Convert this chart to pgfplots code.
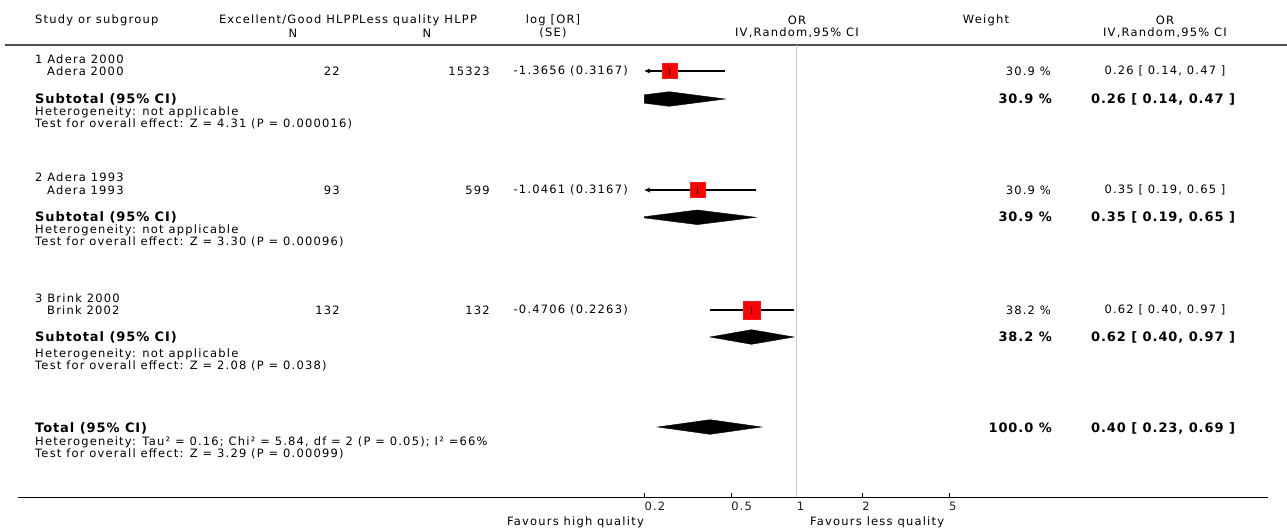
\documentclass[border=0pt]{standalone}
\usepackage{fontspec}
\setmainfont{DejaVu Sans}[LetterSpace=10.5]
\newfontfamily\bfam{DejaVu Sans}[LetterSpace=7]
\usepackage{pgfplots}
\pgfplotsset{compat=1.18}
\usetikzlibrary{arrows.meta}
\newcommand{\nt}{\fontsize{11.5}{13}\selectfont}
\newcommand{\hd}{\fontsize{11.5}{13}\selectfont}
\newcommand{\bt}{\fontsize{13}{15}\selectfont\bfam\bfseries}
\definecolor{rulegray}{HTML}{4D4D4D}
\definecolor{refline}{HTML}{C8C8C8}
\definecolor{txt}{HTML}{1E1E1E}
\begin{document}
\begin{tikzpicture}
% ---------- overlay axis in pixel coordinates for the text columns ----------
\begin{axis}[at={(0pt,0pt)}, anchor=south west, width=1287pt, height=531pt,
  scale only axis, xmin=0, xmax=1287, ymin=0, ymax=531, y dir=reverse,
  hide axis, clip=false, every node/.append style={text=txt}]
  % header
  \node[anchor=west, inner sep=0pt, font=\hd] at (axis cs:35,20) {Study or subgroup};
  \node[anchor=east, inner sep=0pt, font=\hd] at (axis cs:359,20) {Excellent/Good HLPP};
  \node[anchor=west, inner sep=0pt, font=\hd] at (axis cs:359,20) {Less quality HLPP};
  \node[inner sep=0pt, font=\hd] at (axis cs:293,33) {N};
  \node[inner sep=0pt, font=\hd] at (axis cs:427,33) {N};
  \node[inner sep=0pt, font=\hd] at (axis cs:553,20) {log [OR]};
  \node[inner sep=0pt, font=\hd] at (axis cs:553,33) {(SE)};
  \node[inner sep=0pt, font=\hd] at (axis cs:797,20) {OR};
  \node[inner sep=0pt, font=\hd] at (axis cs:797,33) {IV,Random,95\% CI};
  \node[inner sep=0pt, font=\hd] at (axis cs:986,20) {Weight};
  \node[inner sep=0pt, font=\hd] at (axis cs:1165,20) {OR};
  \node[inner sep=0pt, font=\hd] at (axis cs:1165,33) {IV,Random,95\% CI};
  \draw[rulegray, line width=2pt] (axis cs:5,45) -- (axis cs:1287,45);
  % group 1
  \node[anchor=west, inner sep=0pt, font=\nt] at (axis cs:35,59) {1 Adera 2000};
  \node[anchor=west, inner sep=0pt, font=\nt] at (axis cs:47,71) {Adera 2000};
  \node[anchor=east, inner sep=0pt, font=\nt] at (axis cs:340,71) {22};
  \node[anchor=east, inner sep=0pt, font=\nt] at (axis cs:490,71) {15323};
  \node[anchor=east, inner sep=0pt, font=\nt] at (axis cs:628,71) {-1.3656 (0.3167)};
  \node[anchor=east, inner sep=0pt, font=\nt] at (axis cs:1051,71) {30.9 \%};
  \node[inner sep=0pt, font=\nt] at (axis cs:1165,71) {0.26 [ 0.14, 0.47 ]};
  \node[anchor=west, inner sep=0pt, font=\bt] at (axis cs:35,99) {Subtotal (95\% CI)};
  \node[anchor=east, inner sep=0pt, font=\bt] at (axis cs:1052,99) {30.9 \%};
  \node[inner sep=0pt, font=\bt] at (axis cs:1163,99) {0.26 [ 0.14, 0.47 ]};
  \node[anchor=west, inner sep=0pt, font=\nt] at (axis cs:35,112) {Heterogeneity: not applicable};
  \node[anchor=west, inner sep=0pt, font=\nt] at (axis cs:35,124) {Test for overall effect: Z = 4.31 (P = 0.000016)};
  % group 2
  \node[anchor=west, inner sep=0pt, font=\nt] at (axis cs:35,177) {2 Adera 1993};
  \node[anchor=west, inner sep=0pt, font=\nt] at (axis cs:47,190) {Adera 1993};
  \node[anchor=east, inner sep=0pt, font=\nt] at (axis cs:340,190) {93};
  \node[anchor=east, inner sep=0pt, font=\nt] at (axis cs:490,190) {599};
  \node[anchor=east, inner sep=0pt, font=\nt] at (axis cs:628,190) {-1.0461 (0.3167)};
  \node[anchor=east, inner sep=0pt, font=\nt] at (axis cs:1051,190) {30.9 \%};
  \node[inner sep=0pt, font=\nt] at (axis cs:1165,190) {0.35 [ 0.19, 0.65 ]};
  \node[anchor=west, inner sep=0pt, font=\bt] at (axis cs:35,217) {Subtotal (95\% CI)};
  \node[anchor=east, inner sep=0pt, font=\bt] at (axis cs:1052,217) {30.9 \%};
  \node[inner sep=0pt, font=\bt] at (axis cs:1163,217) {0.35 [ 0.19, 0.65 ]};
  \node[anchor=west, inner sep=0pt, font=\nt] at (axis cs:35,230) {Heterogeneity: not applicable};
  \node[anchor=west, inner sep=0pt, font=\nt] at (axis cs:35,242) {Test for overall effect: Z = 3.30 (P = 0.00096)};
  % group 3
  \node[anchor=west, inner sep=0pt, font=\nt] at (axis cs:35,298) {3 Brink 2000};
  \node[anchor=west, inner sep=0pt, font=\nt] at (axis cs:47,310) {Brink 2002};
  \node[anchor=east, inner sep=0pt, font=\nt] at (axis cs:340,310) {132};
  \node[anchor=east, inner sep=0pt, font=\nt] at (axis cs:490,310) {132};
  \node[anchor=east, inner sep=0pt, font=\nt] at (axis cs:628,310) {-0.4706 (0.2263)};
  \node[anchor=east, inner sep=0pt, font=\nt] at (axis cs:1051,310) {38.2 \%};
  \node[inner sep=0pt, font=\nt] at (axis cs:1165,310) {0.62 [ 0.40, 0.97 ]};
  \node[anchor=west, inner sep=0pt, font=\bt] at (axis cs:35,337) {Subtotal (95\% CI)};
  \node[anchor=east, inner sep=0pt, font=\bt] at (axis cs:1052,337) {38.2 \%};
  \node[inner sep=0pt, font=\bt] at (axis cs:1163,337) {0.62 [ 0.40, 0.97 ]};
  \node[anchor=west, inner sep=0pt, font=\nt] at (axis cs:35,354) {Heterogeneity: not applicable};
  \node[anchor=west, inner sep=0pt, font=\nt] at (axis cs:35,366) {Test for overall effect: Z = 2.08 (P = 0.038)};
  % total
  \node[anchor=west, inner sep=0pt, font=\bt] at (axis cs:35,428) {Total (95\% CI)};
  \node[anchor=east, inner sep=0pt, font=\bt] at (axis cs:1052,428) {100.0 \%};
  \node[inner sep=0pt, font=\bt] at (axis cs:1163,428) {0.40 [ 0.23, 0.69 ]};
  \node[anchor=west, inner sep=0pt, font=\nt] at (axis cs:35,442) {Heterogeneity: Tau² = 0.16; Chi² = 5.84, df = 2 (P = 0.05); I² =66\%};
  \node[anchor=west, inner sep=0pt, font=\nt] at (axis cs:35,454) {Test for overall effect: Z = 3.29 (P = 0.00099)};
  % bottom axis line and favours labels
  \draw[black, line width=1pt] (axis cs:18,497) -- (axis cs:1268,497);
  \node[anchor=east, inner sep=0pt, font=\nt] at (axis cs:644,522) {Favours high quality};
  \node[anchor=west, inner sep=0pt, font=\nt] at (axis cs:810,522) {Favours less quality};
\end{axis}
% ---------- forest plot axis (log OR scale) ----------
\begin{axis}[at={(644.4pt,34pt)}, anchor=south west, width=304.6pt, height=452pt,
  scale only axis, xmode=log, xmin=0.2, xmax=5, ymin=45, ymax=497, y dir=reverse,
  axis x line*=bottom, axis y line=none, x axis line style={draw=none},
  xtick={0.2,0.5,1,2,5}, xticklabels={0.2,0.5,1,2,5}, minor xtick={},
  tick align=inside, major tick length=4pt, tick style={black, line width=0.8pt},
  xticklabel style={font=\nt, text=txt, inner sep=0pt, anchor=north west, yshift=-5pt},
  clip=false]
  % line of no effect
  \addplot[refline, line width=1.2pt] coordinates {(1,45) (1,497)};
  % study squares
  \addplot[only marks, mark=square*, mark size=7.5pt, mark options={fill=red, draw=red!90}]
    coordinates {(0.26,71) (0.35,190)};
  \addplot[only marks, mark=square*, mark size=8.75pt, mark options={fill=red, draw=red!90}]
    coordinates {(0.62,310)};
  % confidence intervals (lower limits beyond 0.2 shown as arrows)
  \addplot[black, line width=1.1pt, {Stealth[length=6pt,width=5pt]}-] coordinates {(0.2,71) (0.47,71)};
  \addplot[black, line width=1.1pt, {Stealth[length=6pt,width=5pt]}-] coordinates {(0.2,190) (0.65,190)};
  \addplot[black, line width=1.1pt] coordinates {(0.40,310) (0.97,310)};
  \addplot[only marks, mark=|, mark size=3.5pt, mark options={black, line width=1pt}]
    coordinates {(0.26,71) (0.35,190) (0.62,310)};
  % subtotal and total diamonds
  \addplot[fill=black, draw=black] coordinates {(0.2,94.8) (0.26,91.7) (0.47,99) (0.26,106.3) (0.2,103.2)} -- cycle;
  \addplot[fill=black, draw=black] coordinates {(0.2,216.7) (0.35,210) (0.65,217.3) (0.35,224.6) (0.2,217.9)} -- cycle;
  \addplot[fill=black, draw=black] coordinates {(0.40,337) (0.62,329.7) (0.97,337) (0.62,344.3)} -- cycle;
  \addplot[fill=black, draw=black] coordinates {(0.23,427) (0.40,419.7) (0.69,427) (0.40,434.3)} -- cycle;
\end{axis}
\pgfresetboundingbox
\path[use as bounding box] (0pt,0pt) rectangle (1287pt,531pt);
\end{tikzpicture}
\end{document}
